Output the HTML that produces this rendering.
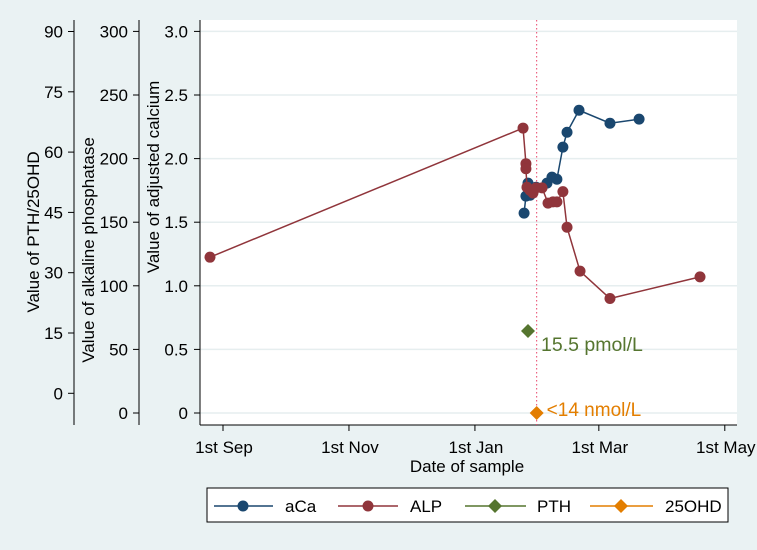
<!DOCTYPE html>
<html><head><meta charset="utf-8"><style>
body{margin:0;background:#eaf2f3;}
svg{display:block;font-family:"Liberation Sans",Arial,sans-serif;}
</style></head><body>
<svg id="chart" width="757" height="550">
<rect x="0" y="0" width="757" height="550" fill="#eaf2f3"/>
<rect x="200" y="20" width="537" height="405" fill="#ffffff"/>
<g id="grid"></g><g id="axes"></g><g id="marks"></g>
<text x="467" y="472" font-size="17" text-anchor="middle">Date of sample</text>
<text transform="translate(39,232) rotate(-90)" font-size="17" text-anchor="middle">Value of PTH/25OHD</text>
<text transform="translate(94,250) rotate(-90)" font-size="17" text-anchor="middle">Value of alkaline phosphatase</text>
<text transform="translate(159,177) rotate(-90)" font-size="17" text-anchor="middle">Value of adjusted calcium</text>
<g>
<rect x="207" y="488" width="521" height="34" fill="#fff" stroke="#000" stroke-width="1"/>
<line x1="214" y1="506" x2="273" y2="506" stroke="#1a476f" stroke-width="1.5"/><circle cx="243" cy="506" r="5.5" fill="#1a476f"/>
<text x="285" y="512" font-size="17">aCa</text>
<line x1="338" y1="506" x2="398" y2="506" stroke="#90353b" stroke-width="1.5"/><circle cx="368" cy="506" r="5.5" fill="#90353b"/>
<text x="410" y="512" font-size="17">ALP</text>
<line x1="465" y1="506" x2="526" y2="506" stroke="#55752f" stroke-width="1.5"/><path d="M495,499 L502,506 L495,513 L488,506Z" fill="#55752f"/>
<text x="537" y="512" font-size="17">PTH</text>
<line x1="590" y1="506" x2="653" y2="506" stroke="#e37e00" stroke-width="1.5"/><path d="M621,499 L628,506 L621,513 L614,506Z" fill="#e37e00"/>
<text x="665" y="512" font-size="17">25OHD</text>
</g>
</svg>
<script>
// days since 1st Sep
const alpDays=[-6.3,145.3,146.7,146.7,147.2,148.7,150.1,151.6,154.5,157.4,159.8,161.7,164.6,166.6,172.9,187.4,231];
const alpValues=[122.5,224,196,192,177.5,175,173,177,177,165,166,166,174,146,111.5,90,107];
const acaDays=[145.8,146.7,147.7,148.7,151.6,156.9,159.3,161.7,164.6,166.6,172.4,187.4,201.5];
const acaValues=[1.571,1.705,1.807,1.712,1.775,1.807,1.854,1.838,2.09,2.207,2.38,2.278,2.31];
const pthDay=[147.7];const pthValue=[15.5];
const ohdDay=[151.9];const ohdValue=[0];
const refLineDay=151.9;
const xTickDays=[0,61,122,182,243];
const xTickLabels=["1st Sep","1st Nov","1st Jan","1st Mar","1st May"];
const caTicks=[0,0.5,1,1.5,2,2.5,3];
const caLabels=["0","0.5","1.0","1.5","2.0","2.5","3.0"];
const alpTicks=[0,50,100,150,200,250,300];
const pthTicks=[0,15,30,45,60,75,90];

const NS="http://www.w3.org/2000/svg";
const X=d=>223+d*2.065;
const Yca=v=>413-v*127.2;
const Yalp=v=>413-v*1.272;
const Ypth=v=>393.3-v*4.02;
function el(t,a,p){const e=document.createElementNS(NS,t);for(const k in a)e.setAttribute(k,a[k]);document.getElementById(p).appendChild(e);return e;}
caTicks.forEach((v,i)=>{
 const g=el('line',{x1:200,x2:737,y1:Yca(v),y2:Yca(v),stroke:'#e6eeef','stroke-width':1.5},'grid');
 
 
 const t=el('line',{x1:194,x2:200,y1:Yca(v),y2:Yca(v),stroke:'#000'},'axes');
 
 
 const l=el('text',{x:188,y:Yca(v)+6,'font-size':17,'text-anchor':'end'},'axes');l.textContent=caLabels[i];
 
 
});
alpTicks.forEach(v=>{
 const t=el('line',{x1:133,x2:139,y1:Yalp(v),y2:Yalp(v),stroke:'#000'},'axes');
 
 
 const l=el('text',{x:128,y:Yalp(v)+6,'font-size':17,'text-anchor':'end'},'axes');l.textContent=v;
 
 
});
pthTicks.forEach(v=>{
 const t=el('line',{x1:68,x2:74,y1:Ypth(v),y2:Ypth(v),stroke:'#000'},'axes');
 
 
 const l=el('text',{x:63,y:Ypth(v)+6,'font-size':17,'text-anchor':'end'},'axes');l.textContent=v;
 
 
});
[[74,'pth-axis-line'],[139,'alp-axis-line'],[200,'calcium-axis-line']].forEach(a=>{
 const l=el('line',{x1:a[0],x2:a[0],y1:20,y2:425,stroke:'#000'},'axes');
 
 
});
const xa=el('line',{x1:200,x2:737,y1:425,y2:425,stroke:'#000'},'axes');


xTickDays.forEach((d,i)=>{
 const t=el('line',{x1:X(d),x2:X(d),y1:425,y2:431,stroke:'#000'},'axes');
 
 
 const l=el('text',{x:X(d)+1,y:453,'font-size':17,'text-anchor':'middle'},'axes');l.textContent=xTickLabels[i];
 
 
});
const rl=el('line',{x1:X(refLineDay),x2:X(refLineDay),y1:20,y2:425,stroke:'#e8446a','stroke-width':1,'stroke-dasharray':'1.5,2.5'},'marks');


function series(days,vals,Y,color,name){
 const pl=el('polyline',{points:days.map((d,i)=>X(d)+','+Y(vals[i])).join(' '),fill:'none',stroke:color,'stroke-width':1.5},'marks');
 
 
 days.forEach((d,i)=>{
  const c=el('circle',{cx:X(d),cy:Y(vals[i]),r:5.5,fill:color},'marks');
  
  
 });
}
series(acaDays,acaValues,Yca,'#1a476f','aca');
series(alpDays,alpValues,Yalp,'#90353b','alp');
function diamond(d,y,color,name){
 const x=X(d);
 const p=el('path',{d:`M${x},${y-7} L${x+7},${y} L${x},${y+7} L${x-7},${y}Z`,fill:color},'marks');
 
 
}
diamond(pthDay[0],Ypth(pthValue[0]),'#55752f','pth-point');
diamond(ohdDay[0],Yca(ohdValue[0]),'#e37e00','25ohd-point');
const t1=el('text',{x:X(pthDay[0])+13,y:Ypth(pthValue[0])+20,'font-size':19.5,fill:'#55752f'},'marks');t1.textContent='15.5 pmol/L';


const t2=el('text',{x:X(ohdDay[0])+10,y:Yca(ohdValue[0])+3,'font-size':19,fill:'#e37e00'},'marks');t2.textContent='<14 nmol/L';


</script>
</body></html>
